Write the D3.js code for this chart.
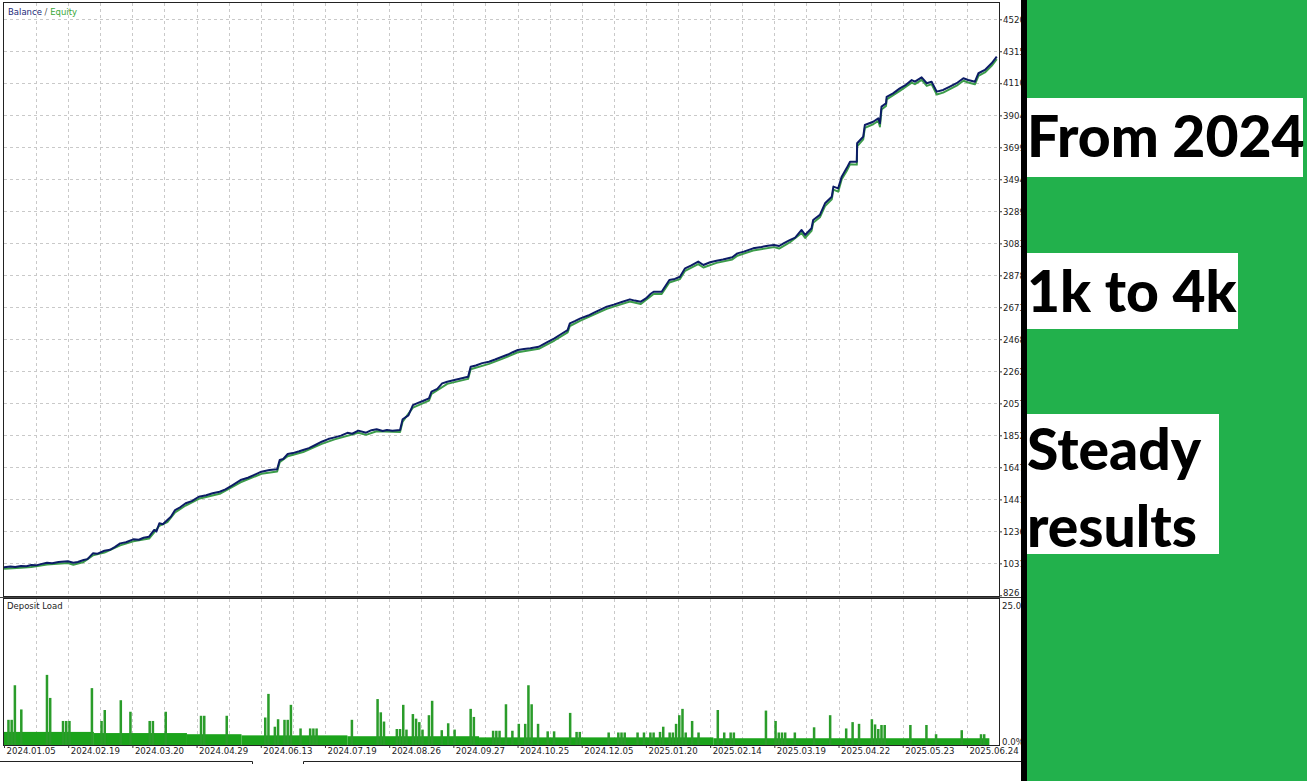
<!DOCTYPE html>
<html><head><meta charset="utf-8">
<script src="https://cdn.jsdelivr.net/npm/d3@7/dist/d3.min.js"></script>
<style>
body{margin:0;background:#fff;overflow:hidden}
svg{display:block}
</style>
</head><body>
<svg id="chart" width="1307" height="781"></svg>
<script>
// ---------- DATA ----------
const dateLabels = ["2024.01.05","2024.02.19","2024.03.20","2024.04.29","2024.06.13","2024.07.19","2024.08.26","2024.09.27","2024.10.25","2024.12.05","2025.01.20","2025.02.14","2025.03.19","2025.04.22","2025.05.23","2025.06.24"];
const balanceTicks = [826,1031,1236,1441,1647,1852,2057,2262,2468,2673,2878,3083,3289,3494,3699,3904,4110,4315,4520];
// [trade index, balance]
const balance = [[0,1006],[2,1010],[3.5,1007],[5.3,1014],[7,1012],[8.5,1020],[10,1018],[11.5,1026],[13.4,1035],[15,1032],[17,1040],[19.9,1044],[21.6,1035],[23,1040],[24.8,1052],[26,1058],[27.7,1095],[29,1092],[31.3,1112],[33,1118],[34.5,1135],[36.2,1159],[38,1166],[40.3,1185],[42,1182],[43.5,1195],[45.2,1202],[46.8,1245],[47.5,1236],[48.4,1288],[49.5,1282],[50.9,1309],[52,1330],[53.3,1373],[55,1392],[56.6,1416],[58.5,1430],[60.7,1458],[63,1468],[65,1480],[67.2,1490],[69,1505],[71,1530],[73.7,1565],[76,1580],[78,1598],[80.2,1619],[82.7,1630],[85.1,1634],[85.9,1694],[87,1700],[88.4,1732],[90,1738],[92,1750],[93.2,1758],[95,1770],[97,1790],[99,1811],[101,1828],[103,1839],[105,1850],[107,1868],[108.5,1862],[110.4,1882],[112.8,1869],[114.5,1885],[116.1,1891],[118,1880],[119.3,1886],[121,1882],[123.4,1886],[124.2,1955],[126,1980],[127.4,2046],[129,2060],[130.5,2072],[132.4,2089],[133.2,2132],[135,2150],[136.5,2185],[138.1,2196],[140,2205],[142,2215],[144.6,2228],[145.4,2292],[147,2300],[149,2315],[151.1,2324],[153,2338],[155.2,2356],[157,2370],[158.5,2385],[160.1,2399],[162,2405],[164,2410],[166.6,2420],[168,2436],[170,2458],[171.5,2474],[173.5,2500],[175.6,2527],[176.3,2570],[178,2586],[179.6,2602],[182,2620],[184,2640],[186,2660],[187.8,2677],[190,2690],[192.7,2709],[195,2724],[196.5,2716],[198.4,2709],[200,2730],[201.5,2760],[202.4,2773],[204.9,2773],[207.3,2848],[209,2855],[210.6,2869],[212.2,2923],[214,2940],[216.3,2966],[217.9,2944],[220,2962],[222,2972],[224,2980],[226.9,2994],[228.5,3019],[230.5,3030],[233.4,3051],[236,3060],[238,3068],[239.9,3073],[241.5,3066],[243,3085],[244.8,3104],[246.5,3120],[248.5,3169],[249.6,3137],[251.6,3180],[252.1,3233],[254.2,3266],[255.8,3340],[257.9,3382],[258.4,3447],[259.9,3436],[261,3511],[262.5,3564],[263.6,3607],[265.7,3607],[265.8,3725],[267.7,3767],[268.2,3842],[270.8,3863],[272.4,3885],[272.9,3853],[273.4,3960],[274.8,3981],[275,4023],[277,4045],[279.1,4077],[281,4100],[282.8,4130],[283.8,4120],[285.9,4148],[287.5,4110],[289,4120],[290.6,4056],[292.6,4067],[294.7,4088],[296.8,4110],[298.9,4142],[300.4,4131],[302.5,4120],[303.6,4174],[305.6,4195],[307.7,4238],[309.3,4280]];
// [trade index, equity]
const equity = [[0,996],[5.3,1003],[8.5,1008],[13.4,1024],[19.9,1033],[21.6,1022],[24.8,1040],[27.7,1082],[31.3,1100],[36.2,1146],[40.3,1172],[45.2,1190],[46.8,1230],[48.4,1272],[50.9,1296],[53.3,1358],[56.6,1402],[60.7,1445],[67.2,1477],[73.7,1551],[80.2,1605],[85.1,1620],[85.9,1680],[88.4,1718],[93.2,1745],[99,1797],[103,1826],[110.4,1868],[112.8,1855],[116.1,1878],[123.4,1873],[124.2,1940],[127.4,2030],[132.4,2075],[133.2,2117],[138.1,2182],[144.6,2214],[145.4,2276],[151.1,2310],[155.2,2342],[160.1,2385],[166.6,2407],[171.5,2460],[175.6,2512],[176.3,2553],[179.6,2588],[187.8,2663],[192.7,2695],[195,2710],[198.4,2694],[202.4,2758],[204.9,2758],[207.3,2832],[210.6,2854],[212.2,2907],[216.3,2950],[217.9,2928],[222,2958],[226.9,2980],[228.5,3004],[233.4,3037],[239.9,3059],[241.5,3050],[244.8,3089],[248.5,3150],[249.6,3118],[251.6,3164],[252.1,3215],[254.2,3250],[255.8,3322],[257.9,3366],[258.4,3428],[259.9,3415],[261,3494],[262.5,3546],[263.6,3590],[265.7,3588],[265.8,3705],[267.7,3750],[268.2,3824],[270.8,3847],[272.4,3868],[272.9,3832],[273.4,3942],[274.8,3964],[275,4006],[279.1,4061],[282.8,4114],[283.8,4104],[285.9,4132],[287.5,4093],[289,4104],[290.6,4038],[292.6,4050],[294.7,4072],[296.8,4094],[298.9,4126],[300.4,4115],[302.5,4103],[303.6,4157],[305.6,4179],[307.7,4222],[309.3,4264]];
// deposit load base level: [fromIndex, toIndex, percent]
const loadBase = [[0,28,2.1],[28,57,1.9],[57,74,1.7],[74,107,1.5],[107,148,1.35],[148,221,1.15],[221,307,1.0]];
// deposit load spikes: [trade index, percent]
const loadSpikes = [[1,4.2],[2,4.2],[3,10.2],[5,6.0],[13,12.0],[14,8.0],[18,4.0],[19,4.0],[20,4.0],[27,9.7],[30,4.0],[31,5.9],[36,7.6],[39,5.6],[45,4.0],[46,4.0],[50,5.6],[61,4.9],[62,4.9],[69,4.9],[81,4.6],[82,8.7],[84,3.0],[85,4.3],[87,4.2],[88,4.2],[89,6.8],[92,2.7],[95,2.7],[96,2.7],[97,2.7],[108,4.2],[116,7.8],[117,5.5],[118,3.9],[122,2.6],[123,2.6],[124,6.8],[125,2.5],[127,5.2],[128,4.4],[129,3.8],[130,2.5],[132,5.0],[133,7.5],[136,2.4],[138,3.6],[140,2.5],[145,6.1],[146,4.7],[152,2.3],[153,2.3],[154,2.3],[156,6.9],[158,2.3],[160,3.5],[162,3.5],[163,10.2],[164,6.9],[166,3.5],[169,2.2],[171,2.2],[176,5.4],[178,2.1],[179,2.1],[188,2.0],[191,2.0],[192,2.0],[193,2.0],[197,2.0],[199,2.0],[201,2.0],[202,2.0],[204,2.1],[205,3.0],[207,2.0],[208,2.0],[209,3.5],[210,5.0],[211,6.1],[212,2.0],[214,4.0],[216,2.0],[222,5.9],[224,2.0],[226,2.0],[227,2.0],[237,5.8],[240,4.0],[241,2.0],[242,2.0],[243,2.0],[246,2.0],[252,2.9],[257,5.0],[262,2.7],[264,3.8],[266,3.5],[270,4.3],[271,3.4],[272,2.6],[273,3.3],[274,3.3],[282,3.3],[287,3.3],[290,1.7],[298,2.4],[304,1.7],[305,1.7]];
const sideTexts = ["From 2024","1k to 4k","Steady","results"];

// ---------- LAYOUT ----------
const svg = d3.select("#chart");
const L = 4, R = 999, mainTop = 3, mainBottom = 596, loadTop = 599, loadBottom = 745;
const x = d3.scaleLinear().domain([0,310]).range([L,R]);
const y = d3.scaleLinear().domain([826,4520]).range([595.3,19.3]);
const yl = d3.scaleLinear().domain([0,25]).range([744,600]);
const gridColor = "#c9c9c9";
const axisFont = "'DejaVu Sans', Tahoma, sans-serif";

svg.append("rect").attr("width",1307).attr("height",781).attr("fill","#fff");

svg.append("clipPath").attr("id","mainClip").append("rect").attr("x",L).attr("y",mainTop).attr("width",R-L).attr("height",mainBottom-mainTop);

// main grid
const gMain = svg.append("g");
const vGrid = d3.range(10,310,10);
gMain.selectAll("line.v").data(vGrid).join("line")
  .attr("x1",d=>Math.round(x(d))+0.5).attr("x2",d=>Math.round(x(d))+0.5).attr("y1",mainTop).attr("y2",mainBottom)
  .attr("stroke",gridColor).attr("stroke-dasharray","3,3");
gMain.selectAll("line.h").data(balanceTicks.slice(1)).join("line")
  .attr("x1",L).attr("x2",R).attr("y1",d=>Math.round(y(d))+0.5).attr("y2",d=>Math.round(y(d))+0.5)
  .attr("stroke",gridColor).attr("stroke-dasharray","3,3");

// lines
const lineGen = d3.line().x(d=>x(d[0])).y(d=>y(d[1]));
gMain.append("path").datum(equity).attr("d",lineGen).attr("fill","none")
  .attr("stroke","#3c9c4a").attr("stroke-width",2).attr("stroke-linejoin","round").attr("clip-path","url(#mainClip)");
gMain.append("path").datum(balance).attr("d",lineGen).attr("fill","none")
  .attr("stroke","#0c1c66").attr("stroke-width",2).attr("stroke-linejoin","round").attr("clip-path","url(#mainClip)");

// main frame
svg.append("rect").attr("x",L-0.5).attr("y",mainTop-0.5).attr("width",R-L+1).attr("height",mainBottom-mainTop+1)
  .attr("fill","none").attr("stroke","#222").attr("stroke-width",1);

// legend
const leg = svg.append("text").attr("x",8).attr("y",15).attr("font-family","Tahoma, 'DejaVu Sans', sans-serif").attr("font-size",8.5);
leg.append("tspan").text("Balance").attr("fill","#1c2a7a");
leg.append("tspan").text(" / ").attr("fill","#555");
leg.append("tspan").text("Equity").attr("fill","#3aa83a");

// right axis main
const yAxis = d3.axisRight(y).tickValues(balanceTicks).tickSize(3).tickFormat(d3.format("d"));
const ya = svg.append("g").attr("transform",`translate(${R},0)`).call(yAxis);
ya.select(".domain").remove();
ya.selectAll("line").attr("stroke","#333");
ya.selectAll("text").attr("font-family",axisFont).attr("font-size",8.6).attr("fill","#222").attr("x",4)
  .attr("dy",d=> d===826 ? "0.05em" : "0.32em");

// load panel
const gLoad = svg.append("g");
gLoad.selectAll("line.v").data(vGrid).join("line")
  .attr("x1",d=>Math.round(x(d))+0.5).attr("x2",d=>Math.round(x(d))+0.5).attr("y1",loadTop).attr("y2",loadBottom)
  .attr("stroke",gridColor).attr("stroke-dasharray","3,3");
const bw = x(1)-x(0);
gLoad.selectAll("rect.base").data(loadBase).join("rect")
  .attr("x",d=>x(d[0])).attr("width",d=>x(d[1])-x(d[0]))
  .attr("y",d=>yl(d[2])).attr("height",d=>yl(0)-yl(d[2])+1).attr("fill","#1ba31b");
gLoad.selectAll("rect.sp").data(loadSpikes).join("rect")
  .attr("x",d=>x(d[0])).attr("width",bw-0.7)
  .attr("y",d=>yl(d[1])).attr("height",d=>yl(0)-yl(d[1])+1).attr("fill","#2a9c2a");
svg.append("rect").attr("x",L-0.5).attr("y",loadTop-0.5).attr("width",R-L+1).attr("height",loadBottom-loadTop+1)
  .attr("fill","none").attr("stroke","#222").attr("stroke-width",1);
svg.append("line").attr("x1",0).attr("x2",1021).attr("y1",597.5).attr("y2",597.5).attr("stroke","#444");
svg.append("text").attr("x",7).attr("y",609).attr("font-family","Tahoma, 'DejaVu Sans', sans-serif").attr("font-size",8.5).attr("fill","#222").text("Deposit Load");

// load axis labels
const ylAxis = d3.axisRight(yl).tickValues([0,25]).tickSize(2).tickFormat(d=> d===0 ? "0.0%" : "25.0");
const yla = svg.append("g").attr("transform",`translate(${R},0)`).call(ylAxis);
yla.select(".domain").remove();
yla.selectAll("line").remove();
yla.selectAll("text").attr("font-family",axisFont).attr("font-size",8.6).attr("fill","#222").attr("x",3)
  .attr("dy",(d)=> d===0 ? "0.1em" : "0.95em");

// bottom axis
const xTickIdx = dateLabels.map((d,i)=>i*20);
const xAxis = d3.axisBottom(x).tickValues(xTickIdx).tickSize(3).tickFormat((d,i)=>dateLabels[i]);
const xa = svg.append("g").attr("transform",`translate(0,${loadBottom})`).call(xAxis);
xa.select(".domain").remove();
xa.selectAll("line").attr("stroke","#333");
xa.selectAll("text").attr("font-family",axisFont).attr("font-size",8.6).attr("fill","#222")
  .attr("text-anchor","start").attr("x",2).attr("y",3).attr("dy","0.75em");

// bottom frame fragments
svg.append("path").attr("d","M0,761.5H252.5V764").attr("fill","none").attr("stroke","#222");
svg.append("path").attr("d","M303.5,764V761.5H1021").attr("fill","none").attr("stroke","#222");

// right panel
svg.append("rect").attr("x",1021).attr("y",0).attr("width",6).attr("height",781).attr("fill","#000");
svg.append("rect").attr("x",1027).attr("y",0).attr("width",280).attr("height",781).attr("fill","#22b14c");
const boxes = [[1027,98,276,79],[1027,253,211,76],[1027,414,192,140]];
svg.selectAll("rect.box").data(boxes).join("rect")
  .attr("x",d=>d[0]).attr("y",d=>d[1]).attr("width",d=>d[2]).attr("height",d=>d[3]).attr("fill","#fff");
const textPos = [[1027,157],[1027,312],[1027,470],[1027,547]];
svg.selectAll("text.side").data(sideTexts).join("text")
  .attr("x",(d,i)=>textPos[i][0]).attr("y",(d,i)=>textPos[i][1])
  .attr("font-family","Lato, 'Open Sans', sans-serif").attr("font-weight",900).attr("font-size",57)
  .attr("fill","#000").text(d=>d);
</script>
</body></html>
